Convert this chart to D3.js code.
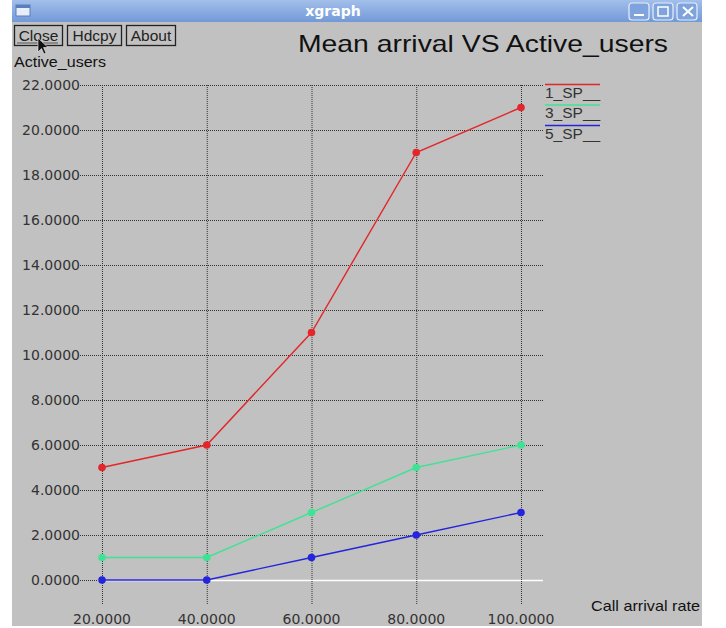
<!DOCTYPE html>
<html>
<head>
<meta charset="utf-8">
<script src="https://cdn.jsdelivr.net/npm/d3@7"></script>
<style>
  body { margin: 0; background: #fff; }
  svg { display: block; }
</style>
</head>
<body>
<div id="chart"></div>
<script>
// données
var rates = [20, 40, 60, 80, 100];
var sp1 = [5, 6, 11, 19, 21];
var sp3 = [1, 1, 3, 5, 6];
var sp5 = [0, 0, 1, 2, 3];
var seriesNames = ["1_SP__", "3_SP__", "5_SP__"];
var yTicks = [0, 2, 4, 6, 8, 10, 12, 14, 16, 18, 20, 22];
var buttons = ["Close", "Hdcpy", "About"];

var series = [
  {name: seriesNames[0], values: sp1, color: "#e3262a"},
  {name: seriesNames[1], values: sp3, color: "#3fe394"},
  {name: seriesNames[2], values: sp5, color: "#2424dc"}
];

var width = 726, height = 628;
var svg = d3.select("#chart").append("svg")
  .attr("width", width).attr("height", height);

// fenêtre xgraph
svg.append("rect").attr("x", 12).attr("y", 0).attr("width", 690).attr("height", 626)
  .attr("fill", "#c1c1c1");

var grad = svg.append("defs").append("linearGradient").attr("id", "tb")
  .attr("x1", 0).attr("y1", 0).attr("x2", 0).attr("y2", 1);
grad.append("stop").attr("offset", "0%").attr("stop-color", "#a3bfea");
grad.append("stop").attr("offset", "100%").attr("stop-color", "#7299d8");
svg.append("rect").attr("x", 12).attr("y", 0).attr("width", 690).attr("height", 22)
  .attr("fill", "url(#tb)");
svg.append("text").attr("x", 333).attr("y", 16).attr("text-anchor", "middle")
  .attr("font-family", "DejaVu Sans").attr("font-weight", "bold").attr("font-size", 14)
  .attr("fill", "#fff").text("xgraph");
// icône à gauche
svg.append("rect").attr("x", 16).attr("y", 5).attr("width", 14).attr("height", 11)
  .attr("fill", "#e8eef8").attr("stroke", "#5a7fbf");
svg.append("rect").attr("x", 16).attr("y", 5).attr("width", 14).attr("height", 3)
  .attr("fill", "#5a7fbf");
// boutons à droite
var wbtn = svg.append("g");
[629, 653, 677].forEach((x, i) => {
  wbtn.append("rect").attr("x", x).attr("y", 3).attr("width", 20).attr("height", 17).attr("rx", 3)
    .attr("fill", "#7fa3dc").attr("stroke", "#e6eefa").attr("stroke-width", 1.2);
});
wbtn.append("line").attr("x1", 634).attr("x2", 644).attr("y1", 15).attr("y2", 15)
  .attr("stroke", "#fff").attr("stroke-width", 2);
wbtn.append("rect").attr("x", 658).attr("y", 7).attr("width", 10).attr("height", 9)
  .attr("fill", "none").attr("stroke", "#fff").attr("stroke-width", 1.5);
wbtn.append("path").attr("d", "M683,7L693,16M693,7L683,16")
  .attr("stroke", "#fff").attr("stroke-width", 2);

// boutons xgraph
var bx = 14;
var bw = [48, 54, 49];
buttons.forEach((b, i) => {
  svg.append("rect").attr("x", bx + 0.5).attr("y", 25.5).attr("width", bw[i]).attr("height", 20)
    .attr("fill", "#c1c1c1").attr("stroke", "#222").attr("stroke-width", 1.3);
  svg.append("text").attr("x", bx + bw[i] / 2 + 0.5).attr("y", 41).attr("text-anchor", "middle")
    .attr("font-family", "Liberation Sans").attr("font-size", 15.5).attr("fill", "#222").text(b);
  bx += bw[i] + 5;
});
svg.append("line").attr("x1", 17).attr("x2", 58).attr("y1", 43).attr("y2", 43)
  .attr("stroke", "#555").attr("stroke-width", 1);
// curseur de souris
svg.append("path").attr("d", "M38,38L38,52L41.5,48.5L44,54L46,53L43.5,47.5L48,47.5Z")
  .attr("fill", "#111").attr("stroke", "#eee").attr("stroke-width", 0.6);

// titres
svg.append("text").attr("x", 298).attr("y", 52)
  .attr("font-family", "Liberation Sans").attr("font-size", 24).attr("fill", "#111")
  .attr("textLength", 370).attr("lengthAdjust", "spacingAndGlyphs")
  .text("Mean arrival VS Active_users");
svg.append("text").attr("x", 14).attr("y", 67)
  .attr("font-family", "Liberation Sans").attr("font-size", 15).attr("fill", "#111")
  .attr("textLength", 92).attr("lengthAdjust", "spacingAndGlyphs")
  .text("Active_users");
svg.append("text").attr("x", 591).attr("y", 611)
  .attr("font-family", "Liberation Sans").attr("font-size", 15).attr("fill", "#111")
  .attr("textLength", 109).attr("lengthAdjust", "spacingAndGlyphs")
  .text("Call arrival rate");

// échelles
var x = d3.scaleLinear().domain([20, 100]).range([102, 521]);
var y = d3.scaleLinear().domain([0, 22]).range([580, 85]);

// grille horizontale
var gy = svg.append("g");
gy.selectAll("line").data(yTicks.filter(d => d > 0)).join("line")
  .attr("x1", 80).attr("x2", 543)
  .attr("y1", d => y(d) + 0.5).attr("y2", d => y(d) + 0.5)
  .attr("stroke", "#333").attr("stroke-width", 1).attr("stroke-dasharray", "1,1");
gy.append("line").attr("x1", 80).attr("x2", 98)
  .attr("y1", y(0) + 0.5).attr("y2", y(0) + 0.5)
  .attr("stroke", "#333").attr("stroke-dasharray", "1,1");
gy.append("line").attr("x1", 98).attr("x2", 543)
  .attr("y1", y(0) + 0.5).attr("y2", y(0) + 0.5)
  .attr("stroke", "#fff").attr("stroke-width", 1.5);
gy.selectAll("text").data(yTicks).join("text")
  .attr("x", 80).attr("y", d => y(d) + 5).attr("text-anchor", "end")
  .attr("font-family", "DejaVu Sans").attr("font-size", 14).attr("fill", "#333")
  .text(d => d3.format(".4f")(d));

// grille verticale
var gx = svg.append("g");
gx.selectAll("line").data(rates).join("line")
  .attr("x1", d => x(d) + 0.5).attr("x2", d => x(d) + 0.5)
  .attr("y1", 85).attr("y2", 605)
  .attr("stroke", "#333").attr("stroke-width", 1).attr("stroke-dasharray", "1,1");
gx.selectAll("text").data(rates).join("text")
  .attr("x", d => x(d)).attr("y", 624).attr("text-anchor", "middle")
  .attr("font-family", "DejaVu Sans").attr("font-size", 14).attr("fill", "#333")
  .text(d => d3.format(".4f")(d));

// courbes
var line = d3.line().x((d, i) => x(rates[i])).y(d => y(d));
series.forEach(s => {
  svg.append("path").datum(s.values).attr("d", line)
    .attr("fill", "none").attr("stroke", s.color).attr("stroke-width", 1.4);
  svg.append("g").selectAll("circle").data(s.values).join("circle")
    .attr("cx", (d, i) => x(rates[i])).attr("cy", d => y(d)).attr("r", 3.8)
    .attr("fill", s.color);
});

// légende
var lg = svg.append("g");
series.forEach((s, i) => {
  var ly = 84.5 + i * 20.5;
  lg.append("line").attr("x1", 545).attr("x2", 600).attr("y1", ly).attr("y2", ly)
    .attr("stroke", s.color).attr("stroke-width", 1.5);
  lg.append("text").attr("x", 545).attr("y", ly + 13)
    .attr("font-family", "Liberation Sans").attr("font-size", 15.5).attr("fill", "#333")
    .text(s.name);
});
</script>
</body>
</html>
